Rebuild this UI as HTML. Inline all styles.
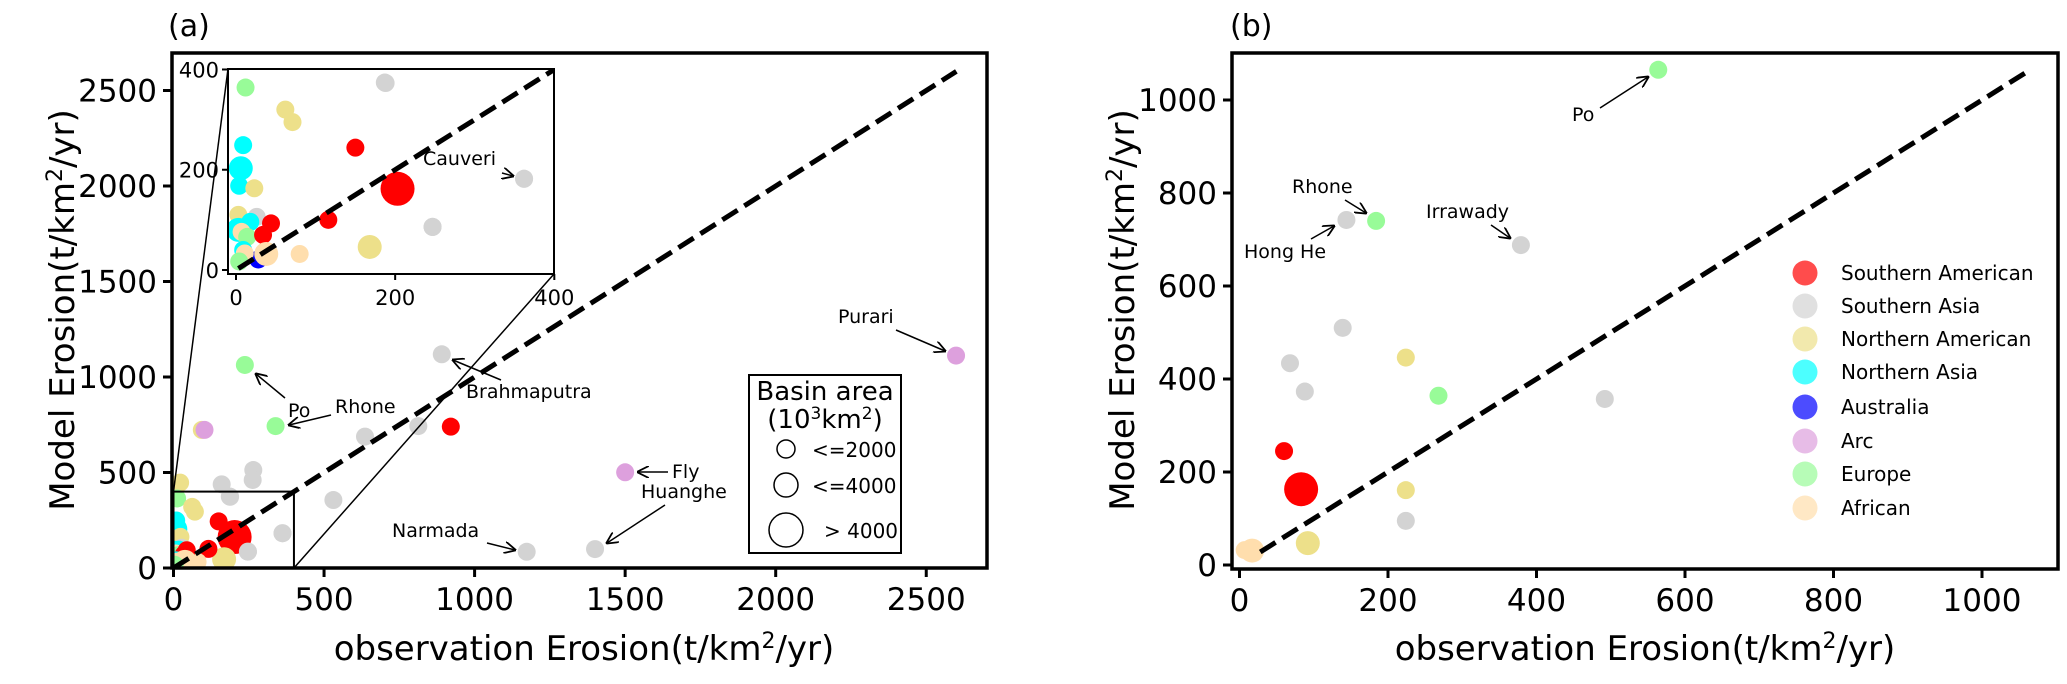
<!DOCTYPE html>
<html><head><meta charset="utf-8"><style>
html,body{margin:0;padding:0;background:#fff}
svg{display:block;font-family:"DejaVu Sans","Liberation Sans",sans-serif}
</style></head><body>
<svg id="chart" width="2067" height="684" viewBox="0 0 2067 684" xmlns="http://www.w3.org/2000/svg">
<defs>
<clipPath id="clipA"><rect x="172" y="53" width="815" height="515"/></clipPath>
<clipPath id="clipI"><rect x="228" y="69" width="326" height="205"/></clipPath>
<clipPath id="clipB"><rect x="1232" y="53" width="826" height="516"/></clipPath>
<marker id="arr" viewBox="0 0 10 10" refX="9" refY="5" markerWidth="12" markerHeight="12" markerUnits="userSpaceOnUse" orient="auto"><path d="M0,0 L10,5 L0,10" fill="none" stroke="#000" stroke-width="1.5"/></marker>
</defs>
<g id="root"></g>
</svg>
<script>
const colors = {SA:'#ff0000',SAs:'#d3d3d3',NA:'#ede08a',NAs:'#00ffff',AU:'#0000ff',AR:'#dda0dd',EU:'#98fb98',AF:'#ffdead'};
const legendCats = ['Southern American','Southern Asia','Northern American','Northern Asia','Australia','Arc','Europe','African'];
const legendKeys = ['SA','SAs','NA','NAs','AU','AR','EU','AF'];
// Panel (a) data
const aCat = ['AU','SAs','SAs','SAs','SAs','SAs','SAs','SAs','NA','NA','AR','SA','SAs','EU','EU','SAs','AR','AR','SAs','SAs','SAs','SAs','EU','SAs','NA','NA','NAs','NAs','NAs','NA','SA','SA','SAs','SAs','NA','SA','AF','NA','SAs','NAs','NAs','AF','EU','SA','SA','NAs','AF','AF','EU'];
const aObs = [28,1173,1400,891,813,636,265,263,22,94,103,921,531,237,339,160,2599,1500,187,362,247,188,12,247,62,71,9,6,4,23,150,203,362,247,168,116,80,3,26,18,3,7,14,44,34,9,38,11,4];
const aMod = [21,85,99,1119,743,688,513,461,447,723,723,740,356,1063,743,438,1112,501,374,182,86,373,364,86,320,295,249,203,168,163,244,162,182,86,46,100,32,110,106,96,80,76,66,93,70,40,32,33,17];
const aSize = ['s','s','s','s','s','s','s','s','s','s','s','s','s','s','s','s','s','s','s','s','s','s','s','s','s','s','s','m','s','s','s','l','s','s','m','s','s','s','s','s','m','s','s','s','s','s','m','s','s'];
// Panel (b) data
const bCat = ['EU','SAs','EU','SAs','SAs','SAs','NA','SAs','EU','SAs','SA','SA','NA','SAs','NA','AF','AF'];
const bObs = [564,144,184,379,139,68,224,88,268,492,60,83,224,224,92,17,7];
const bMod = [1065,742,740,688,510,434,446,373,364,357,245,163,161,95,47,31,32];
const bSize = ['s','s','s','s','s','s','s','s','s','s','s','l','s','s','m','m','s'];
const aTicks = [0,500,1000,1500,2000,2500];
const iTicks = [0,200,400];
const bTicks = [0,200,400,600,800,1000];
const R = {s:9,m:12,l:17};

const NS='http://www.w3.org/2000/svg';
const root=document.getElementById('root');
function el(tag,attrs,parent,text){const e=document.createElementNS(NS,tag);for(const k in attrs)e.setAttribute(k,attrs[k]);if(text!==undefined)e.textContent=text;(parent||root).appendChild(e);return e;}

const ax=v=>173.5+0.3011*v, ay=v=>568-0.191*v;
const ix=v=>236+0.7958*v, iy=v=>270-0.5013*v;
const bx=v=>1239.5+0.7425*v, by=v=>565-0.465*v;

// ---------- Panel A ----------
const gA=el('g',{},root);


const ptsA=el('g',{'clip-path':'url(#clipA)'},gA);
aObs.forEach((o,i)=>{const c=el('circle',{cx:ax(o),cy:ay(aMod[i]),r:R[aSize[i]],fill:colors[aCat[i]]},ptsA);

});
const dA=el('line',{x1:ax(0),y1:ay(0),x2:ax(2600),y2:ay(2600),stroke:'#000','stroke-width':5,'stroke-dasharray':'18 8'},ptsA);


el('rect',{x:ax(0),y:ay(400),width:ax(400)-ax(0),height:ay(0)-ay(400),fill:'none',stroke:'#000','stroke-width':2},gA);
el('line',{x1:ax(0),y1:ay(400),x2:228,y2:69,stroke:'#000','stroke-width':1.5},gA);
el('line',{x1:ax(400),y1:ay(0),x2:554,y2:274,stroke:'#000','stroke-width':1.5},gA);
const sA=el('rect',{x:172,y:53,width:815,height:515,fill:'none',stroke:'#000','stroke-width':3.5},gA);


aTicks.forEach(t=>{
 el('line',{x1:ax(t),y1:568,x2:ax(t),y2:577,stroke:'#000','stroke-width':3},gA);
 const tx=el('text',{x:ax(t),y:610,'font-size':31,'text-anchor':'middle'},gA,t);
 
 
 el('line',{x1:163,y1:ay(t),x2:172,y2:ay(t),stroke:'#000','stroke-width':3},gA);
 const ty=el('text',{x:157,y:ay(t)+11,'font-size':31,'text-anchor':'end'},gA,t);
 
 
});
const gI=el('g',{},gA);


el('rect',{x:228,y:69,width:326,height:205,fill:'#fff'},gI);
const ptsI=el('g',{'clip-path':'url(#clipI)'},gI);
aObs.forEach((o,i)=>{const c=el('circle',{cx:ix(o),cy:iy(aMod[i]),r:R[aSize[i]],fill:colors[aCat[i]]},ptsI);

});
el('line',{x1:ix(3),y1:iy(3),x2:ix(2600),y2:iy(2600),stroke:'#000','stroke-width':5,'stroke-dasharray':'18 8'},ptsI);
el('rect',{x:228,y:69,width:326,height:205,fill:'none',stroke:'#000','stroke-width':2},gI);
iTicks.forEach(t=>{
 el('line',{x1:ix(t),y1:274,x2:ix(t),y2:280,stroke:'#000','stroke-width':2},gI);
 el('text',{x:ix(t),y:305,'font-size':21,'text-anchor':'middle'},gI,t);
 el('line',{x1:222,y1:iy(t),x2:228,y2:iy(t),stroke:'#000','stroke-width':2},gI);
 el('text',{x:219,y:iy(t)+8,'font-size':21,'text-anchor':'end'},gI,t);
});
function ann(g,txt,x,y,x1,y1,x2,y2,name,fs){const t=el('text',{x:x,y:y,'font-size':fs||19},g,txt);
 
 
 el('line',{x1:x1,y1:y1,x2:x2,y2:y2,stroke:'#000','stroke-width':1.5,'marker-end':'url(#arr)'},g);}
ann(gA,'Cauveri',423,165,502,173,513,176,'label-cauveri');
ann(gA,'Po',288,417,285,398,256,374,'label-po-a');
ann(gA,'Rhone',335,413,331,415,289,425,'label-rhone-a');
ann(gA,'Brahmaputra',466,398,501,380,453,360,'label-brahmaputra');
ann(gA,'Narmada',392,537,487,543,515,550,'label-narmada');
ann(gA,'Purari',838,323,896,330,945,351,'label-purari');
ann(gA,'Fly',672,478,668,472,638,472,'label-fly');
ann(gA,'Huanghe',641,498,665,505,607,543,'label-huanghe');
const lg=el('g',{},gA);


el('rect',{x:749,y:375,width:152,height:178,fill:'#fff',stroke:'#000','stroke-width':2},lg);
el('text',{x:825,y:400,'font-size':26,'text-anchor':'middle'},lg,'Basin area');
const t2=el('text',{x:825,y:428,'font-size':26,'text-anchor':'middle'},lg);
t2.innerHTML='(10<tspan dy="-9" font-size="17">3</tspan><tspan dy="9">km</tspan><tspan dy="-9" font-size="17">2</tspan><tspan dy="9">)</tspan>';
[['<=2000',9,449,812],['<=4000',12,485,812],['> 4000',17,530,824]].forEach(r=>{
 el('circle',{cx:786,cy:r[2],r:r[1],fill:'none',stroke:'#000','stroke-width':1.5},lg);
 el('text',{x:r[3],y:r[2]+8,'font-size':20},lg,r[0]);});
el('text',{x:168,y:36,'font-size':30},gA,'(a)');
const xlA=el('text',{x:584,y:660,'font-size':34,'text-anchor':'middle'},gA);
xlA.innerHTML='observation Erosion(t/km<tspan dy="-12" font-size="22">2</tspan><tspan dy="12">/yr)</tspan>';


const ylA=el('text',{x:0,y:0,'font-size':34,'text-anchor':'middle',transform:'translate(74,310) rotate(-90)'},gA);
ylA.innerHTML='Model Erosion(t/km<tspan dy="-12" font-size="22">2</tspan><tspan dy="12">/yr)</tspan>';



// ---------- Panel B ----------
const gB=el('g',{},root);


const ptsB=el('g',{'clip-path':'url(#clipB)'},gB);
bObs.forEach((o,i)=>{const c=el('circle',{cx:bx(o),cy:by(bMod[i]),r:R[bSize[i]],fill:colors[bCat[i]]},ptsB);

});
const dB=el('line',{x1:bx(28),y1:by(28),x2:bx(1062),y2:by(1062),stroke:'#000','stroke-width':5,'stroke-dasharray':'18 8'},ptsB);


const sB=el('rect',{x:1232,y:53,width:826,height:516,fill:'none',stroke:'#000','stroke-width':3.5},gB);


bTicks.forEach(t=>{
 el('line',{x1:bx(t),y1:569,x2:bx(t),y2:578,stroke:'#000','stroke-width':3},gB);
 const tx=el('text',{x:bx(t),y:611,'font-size':31,'text-anchor':'middle'},gB,t);
 
 
 el('line',{x1:1223,y1:by(t),x2:1232,y2:by(t),stroke:'#000','stroke-width':3},gB);
 const ty=el('text',{x:1217,y:by(t)+11,'font-size':31,'text-anchor':'end'},gB,t);
 
 
});
ann(gB,'Po',1572,121,1600,108,1648,77,'label-po-b');
ann(gB,'Rhone',1292,193,1345,200,1366,213,'label-rhone-b');
ann(gB,'Hong He',1244,258,1311,239,1334,226,'label-hong-he');
ann(gB,'Irrawady',1426,218,1491,225,1510,238,'label-irrawady');
const lb=el('g',{},gB);


const lyY=[273,306,339,372,407,441,474,508];
legendCats.forEach((n,i)=>{
 const c=el('circle',{cx:1805,cy:lyY[i],r:12.5,fill:colors[legendKeys[i]],'fill-opacity':0.7},lb);
 
 
 const t=el('text',{x:1841,y:lyY[i]+7,'font-size':20},lb,n);
 
 
});
el('text',{x:1230,y:36,'font-size':30},gB,'(b)');
const xlB=el('text',{x:1645,y:660,'font-size':34,'text-anchor':'middle'},gB);
xlB.innerHTML='observation Erosion(t/km<tspan dy="-12" font-size="22">2</tspan><tspan dy="12">/yr)</tspan>';


const ylB=el('text',{x:0,y:0,'font-size':34,'text-anchor':'middle',transform:'translate(1134,310) rotate(-90)'},gB);
ylB.innerHTML='Model Erosion(t/km<tspan dy="-12" font-size="22">2</tspan><tspan dy="12">/yr)</tspan>';


</script>
</body></html>
